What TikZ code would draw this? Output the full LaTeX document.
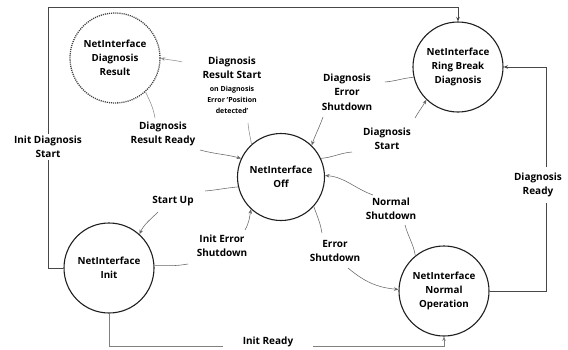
\documentclass[tikz,border=0pt]{standalone}
\usepackage{fontspec}
\setmainfont{Open Sans}
\usetikzlibrary{arrows.meta}
\begin{document}
\begin{tikzpicture}[x=1pt,y=1pt,
  state/.style={circle, draw=black!88, line width=1.1pt, minimum size=90pt, inner sep=0pt, align=center,
    font=\bfseries\fontsize{9.8}{14}\selectfont},
  lbl/.style={align=center, inner sep=1pt, font=\bfseries\fontsize{10}{14.3}\selectfont},
  small/.style={align=center, inner sep=1pt, font=\bfseries\fontsize{7}{11}\selectfont},
  conn/.style={draw=black!60, line width=0.55pt},
  frame/.style={draw=black!72, line width=0.8pt},
  tip/.style={-{Stealth[length=4.5pt,width=3.6pt]}}
]
\useasboundingbox (0,0) rectangle (568,-349);
% states
\node[state, draw=black!75, densely dotted, line width=1.3pt] (dr) at (115,-58) {NetInterface\\Diagnosis\\Result};
\node[state] (rb) at (458,-67) {NetInterface\\Ring Break\\Diagnosis};
\node[state, minimum size=87pt] (off) at (281,-177) {NetInterface\\Off};
\node[state] (init) at (109,-268) {NetInterface\\Init};
\node[state] (norm) at (444,-291) {NetInterface\\Normal\\Operation};

% labels
\node[lbl] (l1) at (232,-68) {Diagnosis\\Result Start};
\node[small] (l1s) at (232,-100) {on Diagnosis\\Error `Position\\detected'};
\node[lbl] (l2) at (163,-134) {Diagnosis\\Result Ready};
\node[lbl] (l3) at (347,-92) {Diagnosis\\Error\\Shutdown};
\node[lbl] (l4) at (387,-139) {Diagnosis\\Start};
\node[lbl] (l5) at (173,-201) {Start Up};
\node[lbl] (l6) at (222,-246) {Init Error\\Shutdown};
\node[lbl] (l7) at (391,-209) {Normal\\Shutdown};
\node[lbl] (l8) at (335,-251) {Error\\Shutdown};
\node[lbl, inner sep=2pt] (l9) at (48,-147) {Init Diagnosis\\Start};
\node[lbl, inner sep=2pt] (l10) at (538,-185) {Diagnosis\\Ready};
\node[lbl, inner sep=3pt] (l11) at (268,-342) {Init Ready};

% free ends of connectors
\coordinate (c1a) at (248,-123);
\coordinate (c1b) at (182,-62);
\coordinate (c2a) at (155,-118);
\coordinate (c2b) at (200,-150);
\coordinate (c3a) at (385,-82);
\coordinate (c3b) at (323,-117);
\coordinate (c4a) at (352,-152);
\coordinate (c4b) at (415,-118);
\coordinate (c5a) at (205,-191);
\coordinate (c5b) at (158,-212);
\coordinate (c6a) at (188,-264);
\coordinate (c6b) at (245,-230);
\coordinate (c7a) at (405,-225);
\coordinate (c7b) at (373,-195);
\coordinate (c8a) at (322,-233);
\coordinate (c8b) at (348,-268);
\coordinate (tr) at (458,-7);
\coordinate (bl) at (223,-346);
\coordinate (br) at (313,-346);
\coordinate (rlo) at (546,-203);
\coordinate (rhi) at (546,-167);

% curved transitions
\draw[conn, draw=black!45] (off.132) to[out=100,in=-85] (c1a);
\draw[conn, draw=black!45, tip] (c1b) to[out=165,in=-15] (dr.0);
\draw[conn, draw=black!45] (dr.-48) to[out=-65,in=100] (c2a);
\draw[conn, tip] (c2b) to[out=-15,in=165] (off.155);
\draw[conn] (rb.193) to[out=185,in=5] (c3a);
\draw[conn, tip] (c3b) to[out=-110,in=70] (off.46);
\draw[conn] (off.25) to[out=5,in=185] (c4a);
\draw[conn, tip] (c4b) to[out=60,in=-120] (rb.226);
\draw[conn] (off.193) to[out=185,in=5] (c5a);
\draw[conn, tip] (c5b) to[out=-135,in=65] (init.48);
\draw[conn] (init.3) to[out=0,in=190] (c6a);
\draw[conn, tip] (c6b) to[out=60,in=-100] (off.227);
\draw[conn] (norm.129) to[out=100,in=-75] (c7a);
\draw[conn, tip] (c7b) to[out=160,in=-5] (off.2);
\draw[conn] (off.-42) to[out=-70,in=100] (c8a);
\draw[conn, tip] (c8b) to[out=-40,in=175] (norm.178);

% frame connectors
\draw[frame] (init.west) -| (l9.south);
\draw[frame, tip] (l9.north) |- (tr) -- (rb.north);
\draw[frame] (norm.east) -| (rlo);
\draw[frame, tip] (rhi) |- (rb.east);
\draw[frame, draw=black!50] (init.south) |- (bl);
\draw[frame, draw=black!50, tip] (br) -| (norm.south);
\end{tikzpicture}
\end{document}
